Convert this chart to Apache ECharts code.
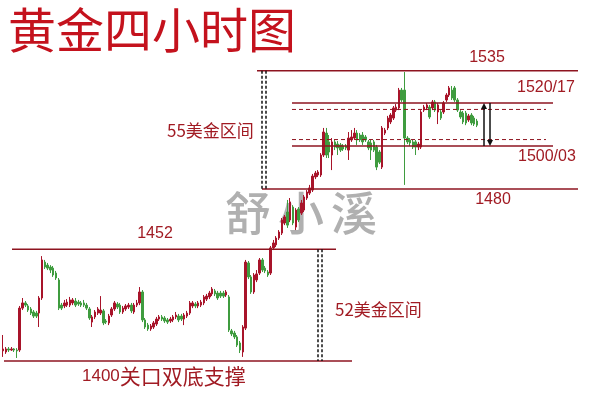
<!DOCTYPE html>
<html><head><meta charset="utf-8">
<script src="https://cdn.jsdelivr.net/npm/echarts@6/dist/echarts.min.js"></script>
<style>html,body{margin:0;padding:0;background:#fff}#c{width:600px;height:400px}</style>
</head><body><div id="c"></div>
<script>
const openP = [1404.7,1404.2,1405.6,1405.1,1405.6,1405.1,1405.1,1424.6,1427.0,1425.6,1424.2,1422.8,1422.3,1422.3,1429.3,1446.0,1444.6,1443.7,1443.2,1440.9,1437.7,1426.0,1425.6,1426.0,1426.0,1427.0,1427.9,1427.4,1427.0,1427.0,1426.0,1424.2,1418.1,1420.5,1422.3,1422.3,1423.3,1418.6,1417.7,1421.4,1424.2,1426.5,1426.0,1422.8,1424.2,1425.1,1426.0,1422.8,1426.0,1427.0,1432.1,1419.1,1416.7,1414.9,1415.8,1417.2,1419.5,1420.5,1420.0,1419.1,1418.6,1419.1,1420.5,1420.9,1420.9,1419.5,1420.9,1422.3,1425.6,1426.5,1425.6,1426.0,1427.0,1428.8,1429.8,1431.2,1432.6,1431.6,1431.6,1431.6,1430.7,1429.8,1414.0,1413.0,1411.2,1408.4,1404.2,1415.3,1445.6,1439.1,1432.1,1437.7,1440.9,1447.0,1443.2,1441.4,1440.9,1452.6,1454.0,1457.2,1459.5,1464.2,1469.3,1465.6,1471.6,1462.3,1470.7,1468.8,1470.2,1475.8,1478.1,1479.5,1485.6,1486.5,1486.5,1495.8,1506.0,1501.9,1495.8,1501.9,1500.9,1500.5,1500.0,1500.0,1498.1,1502.8,1503.7,1506.0,1505.1,1505.1,1504.2,1501.9,1501.4,1501.9,1499.5,1497.2,1490.2,1506.0,1508.4,1511.2,1513.0,1516.7,1517.7,1526.0,1526.0,1503.7,1502.8,1501.9,1501.9,1499.5,1499.5,1516.7,1517.7,1518.1,1517.7,1520.5,1515.8,1515.8,1515.8,1521.4,1523.7,1526.0,1527.0,1521.4,1515.8,1515.3,1515.3,1512.1,1514.4,1513.0,1511.6];
const closeP = [1405.6,1405.6,1405.1,1405.6,1405.1,1404.7,1424.6,1427.0,1426.0,1423.7,1422.3,1420.9,1420.9,1429.3,1447.0,1443.7,1443.2,1442.3,1440.0,1438.6,1424.6,1424.6,1427.0,1427.4,1428.4,1428.4,1426.0,1426.5,1426.0,1426.0,1424.6,1420.0,1420.5,1422.8,1424.2,1423.7,1417.7,1418.1,1420.9,1424.2,1427.0,1425.1,1422.8,1424.6,1425.6,1426.0,1423.3,1426.0,1427.0,1432.1,1419.1,1415.8,1414.9,1416.3,1417.7,1419.5,1420.5,1419.5,1418.6,1418.1,1419.5,1420.5,1421.4,1419.1,1419.5,1421.4,1422.3,1427.0,1427.0,1425.6,1427.0,1427.4,1429.8,1430.2,1431.6,1433.5,1431.2,1429.3,1430.2,1430.2,1432.1,1414.4,1412.6,1411.2,1407.4,1405.1,1415.8,1446.0,1439.1,1432.1,1440.0,1440.5,1447.0,1442.3,1441.9,1440.0,1452.6,1454.9,1457.2,1460.0,1465.6,1467.0,1463.2,1474.0,1464.2,1470.2,1465.6,1473.5,1476.3,1478.6,1480.5,1486.0,1487.4,1487.9,1495.8,1506.5,1495.8,1497.2,1501.9,1499.5,1499.1,1498.1,1498.6,1499.1,1503.7,1504.2,1506.0,1502.8,1502.8,1501.9,1502.8,1499.1,1498.1,1498.1,1490.2,1492.5,1508.4,1507.4,1513.0,1514.4,1517.7,1518.1,1526.0,1521.4,1503.7,1501.9,1501.4,1499.5,1499.5,1500.9,1515.8,1518.1,1519.1,1513.5,1520.5,1516.7,1519.1,1513.0,1520.0,1523.7,1527.0,1522.3,1521.4,1516.7,1513.5,1511.2,1510.7,1514.0,1510.7,1510.2,1509.7];
const lowP = [1401.9,1403.3,1404.2,1404.7,1404.2,1401.4,1404.2,1423.7,1425.1,1422.8,1421.4,1420.0,1420.0,1415.8,1428.4,1442.8,1442.3,1440.9,1439.1,1437.7,1423.7,1423.7,1424.6,1425.1,1425.1,1426.0,1425.1,1425.6,1425.1,1425.1,1423.7,1419.1,1415.8,1419.5,1421.4,1421.4,1416.7,1417.2,1416.7,1420.5,1423.3,1424.2,1421.9,1421.9,1423.3,1424.2,1422.3,1421.9,1425.1,1426.0,1418.1,1414.9,1414.0,1414.0,1414.9,1416.3,1418.6,1418.6,1417.7,1417.2,1417.7,1418.1,1419.5,1418.1,1418.6,1416.7,1420.0,1421.4,1424.6,1424.6,1424.6,1425.1,1426.0,1427.9,1428.8,1430.2,1430.2,1428.4,1429.3,1429.3,1429.8,1413.5,1411.6,1410.2,1406.5,1403.7,1401.9,1414.4,1438.1,1431.2,1431.2,1436.7,1440.0,1441.4,1440.9,1439.1,1440.0,1451.6,1453.0,1456.3,1458.6,1463.2,1461.9,1464.6,1463.2,1460.9,1464.6,1467.9,1469.3,1474.9,1477.2,1478.6,1484.6,1485.6,1485.6,1494.9,1494.4,1494.4,1488.8,1498.1,1495.8,1497.2,1497.7,1498.1,1493.5,1501.9,1502.8,1500.5,1501.9,1500.5,1501.9,1498.1,1493.5,1497.2,1488.8,1491.6,1489.3,1505.1,1507.4,1510.2,1512.1,1515.8,1516.7,1520.5,1481.9,1500.9,1500.0,1498.6,1495.8,1498.1,1498.6,1515.8,1516.7,1512.6,1516.7,1515.8,1510.2,1512.1,1514.9,1520.5,1522.8,1521.4,1520.5,1515.8,1512.6,1510.2,1509.7,1511.2,1509.7,1509.3,1508.8];
const highP = [1412.1,1406.5,1406.5,1406.5,1406.0,1406.0,1425.6,1429.3,1427.9,1426.5,1425.1,1423.7,1423.3,1430.2,1448.8,1447.0,1445.6,1444.6,1444.2,1441.9,1438.6,1427.0,1428.4,1428.8,1429.8,1429.3,1429.3,1428.4,1427.9,1428.4,1427.0,1425.1,1421.4,1423.7,1425.1,1430.2,1424.2,1419.5,1421.9,1425.1,1427.9,1427.4,1427.0,1425.6,1426.5,1427.0,1427.0,1427.0,1428.4,1434.4,1433.0,1420.0,1417.7,1417.2,1418.6,1420.5,1421.4,1421.4,1420.9,1420.0,1420.5,1421.4,1422.8,1421.9,1421.9,1422.3,1423.3,1427.9,1427.9,1427.4,1427.9,1428.4,1430.7,1431.2,1432.6,1434.4,1433.5,1432.6,1432.6,1432.6,1433.0,1430.7,1414.9,1414.0,1412.1,1409.3,1416.7,1447.0,1446.5,1440.0,1440.9,1442.3,1447.9,1447.9,1444.2,1442.3,1453.5,1456.3,1458.1,1460.9,1466.5,1467.9,1474.9,1475.8,1472.5,1471.1,1471.6,1474.9,1477.2,1479.5,1481.9,1487.0,1488.4,1488.8,1496.7,1508.4,1508.4,1505.1,1503.7,1502.8,1502.3,1501.4,1500.9,1500.9,1506.5,1507.4,1508.4,1507.4,1506.0,1506.5,1505.1,1502.8,1502.8,1502.8,1500.5,1498.1,1509.3,1508.4,1514.0,1515.3,1518.6,1519.5,1527.0,1527.0,1534.4,1504.6,1503.7,1502.8,1502.8,1501.9,1516.7,1519.1,1520.0,1519.1,1521.4,1521.4,1520.0,1516.7,1520.9,1524.6,1527.9,1527.9,1527.9,1522.3,1516.7,1516.3,1516.3,1514.9,1515.3,1514.0,1512.6];

const levels = { top: 1535, res: 1520, res2: 1517, sup2: 1503, sup: 1500, mid: 1480, prev: 1452, base: 1400 };
const titleText = '黄金四小时图';
const watermark = ['舒', '小', '溪'];
const categories = openP.map((_, i) => String(i + 1));
const candles = openP.map((o, i) => [o, closeP[i], lowP[i], highP[i]]);

const chart = echarts.init(document.getElementById('c'), null, { renderer: 'canvas' });
chart.setOption({
  animation: false,
  backgroundColor: '#ffffff',
  grid: { left: 1.6, right: 121.6, top: 17, bottom: 17.5 },
  xAxis: { type: 'category', data: categories, show: false, boundaryGap: true },
  yAxis: { type: 'value', min: 1390, max: 1560, show: false, splitLine: { show: false } },
  series: [{
    type: 'candlestick',
    data: candles,
    barWidth: 2,
    z: 5,
    itemStyle: { color: '#a8142a', color0: '#3f9c3f', borderColor: '#a8142a', borderColor0: '#3f9c3f', borderWidth: 1 }
  }]
});

const Y = p => chart.convertToPixel({ yAxisIndex: 0 }, p);
const red = '#8e1420';
const txt = '#a11b23';
const hl = (x1, x2, p, dashed) => ({ type: 'line', shape: { x1, y1: Y(p), x2, y2: Y(p) }, style: { stroke: red, lineWidth: dashed ? 1 : 1.5, lineDash: dashed ? [4, 3] : null }, z: 10 });
const vl = (x, p1, p2) => ({ type: 'line', shape: { x1: x, y1: Y(p1), x2: x, y2: Y(p2) }, style: { stroke: '#111', lineWidth: 1.5, lineDash: [3, 2] }, z: 10 });
const txtEl = (t, x, y, font, align) => ({ type: 'text', x, y, style: { text: t, fill: txt, font, textAlign: align || 'left', textVerticalAlign: 'middle' }, z: 12 });

const els = [];
els.push({ type: 'text', x: 8, y: 30, style: { text: titleText, fill: '#c4121d', font: '48px "Noto Sans CJK SC"', textVerticalAlign: 'middle' }, z: 20 });
const wmX = [248, 301, 354];
watermark.forEach((ch, i) => els.push({ type: 'text', x: wmX[i], y: 213, style: { text: ch, fill: 'rgba(150,150,150,0.75)', font: '500 46px "Noto Sans CJK SC"', textAlign: 'center', textVerticalAlign: 'middle' }, z: 1 }));
els.push(hl(257, 578, levels.top));
els.push(hl(292, 553, levels.res));
els.push(hl(292, 546, levels.res2, true));
els.push(hl(292, 546, levels.sup2, true));
els.push(hl(292, 553, levels.sup));
els.push(hl(262, 578, levels.mid));
els.push(hl(12, 336, levels.prev));
els.push(hl(4, 352, levels.base));
els.push(vl(262, levels.top, levels.mid), vl(266, levels.top, levels.mid));
els.push(vl(318, levels.prev, levels.base), vl(322, levels.prev, levels.base));
const ay1 = Y(levels.res), ay2 = Y(levels.sup);
els.push({ type: 'line', shape: { x1: 484, y1: ay1 + 3, x2: 484, y2: ay2 }, style: { stroke: '#111', lineWidth: 1.5 }, z: 11 });
els.push({ type: 'polygon', shape: { points: [[484, ay1], [481, ay1 + 6], [487, ay1 + 6]] }, style: { fill: '#111' }, z: 11 });
els.push({ type: 'line', shape: { x1: 490, y1: ay1, x2: 490, y2: ay2 - 3 }, style: { stroke: '#111', lineWidth: 1.5 }, z: 11 });
els.push({ type: 'polygon', shape: { points: [[490, ay2], [487, ay2 - 6], [493, ay2 - 6]] }, style: { fill: '#111' }, z: 11 });
const numFont = '16px "Liberation Sans", sans-serif';
els.push(txtEl('1535', 487, 58, numFont, 'center'));
els.push(txtEl('1520/17', 517, 88, numFont));
els.push(txtEl('1500/03', 518, 157, numFont));
els.push(txtEl('1480', 493, 200, numFont, 'center'));
els.push(txtEl('1452', 155, 234, numFont, 'center'));
els.push({ type: 'text', x: 82, y: 376, z: 12, style: { text: '{n|1400}{c|关口双底支撑}', textVerticalAlign: 'middle', rich: { n: { fill: txt, font: '17px "Liberation Sans", sans-serif' }, c: { fill: txt, font: '21px "Noto Sans CJK SC"' } } } });
els.push(txtEl('55美金区间', 167, 131, '17px "Noto Sans CJK SC"'));
els.push(txtEl('52美金区间', 335, 310, '17px "Noto Sans CJK SC"'));
chart.setOption({ graphic: { elements: els } });
</script></body></html>
